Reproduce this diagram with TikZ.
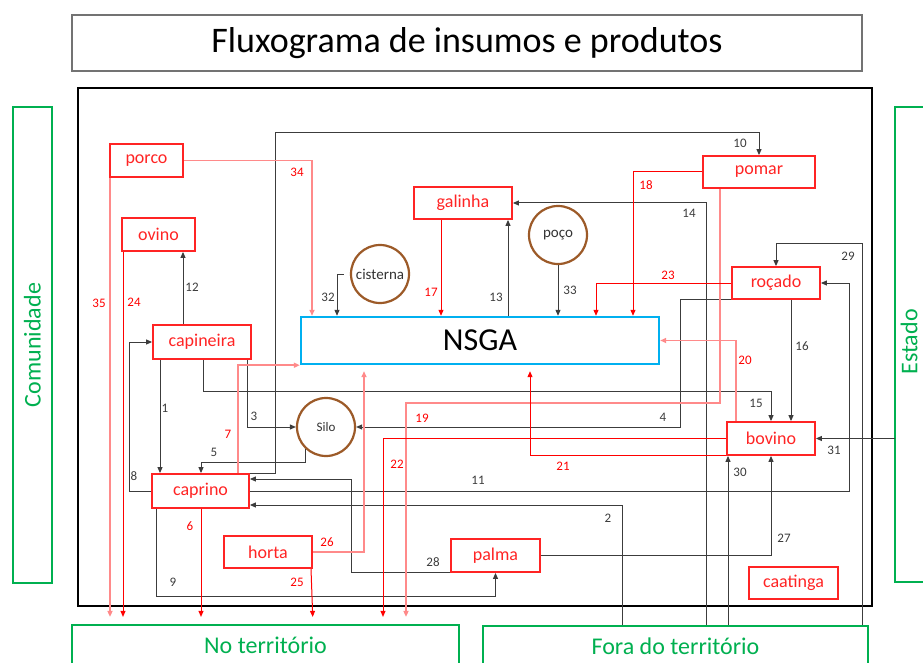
\documentclass[tikz,border=0pt]{standalone}
\usepackage{fontspec}
\setmainfont{Carlito}
\usetikzlibrary{arrows.meta}
\definecolor{boxred}{HTML}{FF2424}
\definecolor{lightred}{HTML}{FF8A8A}
\definecolor{grn}{HTML}{00B050}
\definecolor{nsgablue}{HTML}{00B0F0}
\definecolor{brn}{HTML}{9C5A28}
\definecolor{ln}{HTML}{3C3C3C}
\begin{document}
\begin{tikzpicture}[x=1pt,y=-1pt,
    unit/.style={draw=boxred,line width=1.8pt,text=boxred,fill=white,inner sep=0pt,font=\fontsize{18}{20}\selectfont},
    tank/.style={circle,draw=brn,line width=2.2pt,fill=white,inner sep=0pt,minimum size=58pt,text=black!80,font=\fontsize{15}{16}\selectfont},
    zone/.style={draw=grn,line width=2.2pt,text=grn,inner sep=0pt,font=\fontsize{24}{26}\selectfont},
    num/.style={inner sep=0pt,text=ln,font=\fontsize{13}{14}\selectfont},
    rnum/.style={num,text=red},
    tip/.style={-{Triangle[length=6pt,width=5pt]}},
    blk/.style={draw=ln,line width=1pt,tip},
    rd/.style={draw=red,line width=1pt,tip},
    pk/.style={draw=lightred,line width=1.6pt,tip}]
  \useasboundingbox[fill=white] (0,0) rectangle (923,663);
  \draw[line width=2pt] (78,88) rectangle (872,606);
  \node[draw=black!55,line width=1.2pt,minimum width=790pt,minimum height=56pt,inner sep=0pt,font=\fontsize{36}{40}\selectfont] (title) at (467,43) {Fluxograma de insumos e produtos};
  \node[zone,rotate=90,minimum width=476pt,minimum height=39pt] (comunidade) at (32.5,345) {Comunidade};
  \draw[zone] (895,107) rectangle (935,582);
  \node[rotate=90,inner sep=0pt,text=grn,font=\fontsize{24}{26}\selectfont] (estado) at (909,342) {Estado};
  \node[zone,minimum width=387pt,minimum height=40pt] (noterr) at (265.5,645) {No território};
  \node[zone,minimum width=385pt,minimum height=40pt] (fora) at (675.5,646) {Fora do território};
  \node[draw=nsgablue,line width=2.4pt,minimum width=358pt,minimum height=47pt,inner sep=0pt,font=\fontsize{32}{34}\selectfont] (nsga) at (480,340.5) {NSGA};
  \node[unit,minimum width=73pt,minimum height=33pt] (porco) at (146.5,160.5) {porco};
  \node[unit,minimum width=73pt,minimum height=33pt] (ovino) at (158.5,234.5) {ovino};
  \node[unit,minimum width=98pt,minimum height=34pt] (capineira) at (202,342) {capineira};
  \node[unit,minimum width=97pt,minimum height=34pt] (caprino) at (200.5,491) {caprino};
  \node[unit,minimum width=88pt,minimum height=32pt] (horta) at (268,552) {horta};
  \node[unit,minimum width=98pt,minimum height=32pt] (galinha) at (463,203) {galinha};
  \node[unit,minimum width=112pt,minimum height=32pt] (pomar) at (759,172) {pomar};
  \node[unit,minimum width=88pt,minimum height=32pt] (rocado) at (776,283) {roçado};
  \node[unit,minimum width=88pt,minimum height=33pt] (bovino) at (771,438.5) {bovino};
  \node[unit,minimum width=89pt,minimum height=33pt] (palma) at (495.5,555.5) {palma};
  \node[unit,minimum width=89pt,minimum height=32pt] (caatinga) at (793.5,583) {caatinga};
  \node[tank] (cisterna) at (380,274) {cisterna};
  \node[tank] (poco) at (558,235) {poço};
  \node[tank,font=\fontsize{13}{14}\selectfont] (silo) at (326,427) {Silo};

  \draw[blk] (capineira.south -| 160,0) -- (caprino.north -| 160,0);
  \draw[blk] (622,0 |- fora.north) |- (caprino.east |- 0,505);
  \draw[blk] (247,0 |- capineira.south) |- (silo.west);
  \draw[blk] (rocado.south west) -- (680,0 |- rocado.south west) |- (silo.east);
  \draw[blk] (silo.226) |- (201,462) -- (201,0 |- caprino.north);
  \draw[blk] (caprino.west) -- (129,0 |- caprino.west) |- (capineira.west);
  \draw[blk] (156,0 |- caprino.south) |- (palma.south |- 0,596) -- (palma.south);
  \draw[blk] (caprino.north east) -- (275,0 |- caprino.north east) |- (pomar.north |- 0,133) -- (pomar.north);
  \draw[blk] (caprino.east) -- (849,0 |- caprino.east) |- (rocado.east);
  \draw[blk] (183,0 |- capineira.north) -- (183,0 |- ovino.south);
  \draw[blk] (508,0 |- nsga.north) -- (508,0 |- galinha.south);
  \draw[blk] (706,0 |- fora.north) |- (galinha.east);
  \draw[blk] (203,0 |- capineira.south) |- (bovino.north |- 0,391) -- (bovino.north);
  \draw[blk] (791,0 |- rocado.south) -- (791,0 |- bovino.north);
  \draw[blk] (palma.east) -| (bovino.south);
  \draw[blk] (palma.south west) -- (351,0 |- palma.south west) |- (caprino.east |- 0,479);
  \draw[blk] (862,0 |- fora.north) |- (rocado.north |- 0,243) -- (rocado.north);
  \draw[blk] (728,0 |- fora.north) -- (728,0 |- bovino.south);
  \draw[blk] (895,0 |- bovino.east) -- (bovino.east);
  \draw[blk,shorten <=6pt] (cisterna.west) -| (337,0 |- nsga.north);
  \draw[blk] (poco.south) -- (poco.south |- nsga.north);

  \draw[rd,shorten >=7pt] (201,0 |- caprino.south) -- (201,0 |- noterr.north);
  \draw[pk] (238,0 |- caprino.north) |- (nsga.south west);
  \draw[rd] (441,0 |- galinha.south) -- (441,0 |- nsga.north);
  \draw[rd] (pomar.west) -| (633,0 |- nsga.north);
  \draw[pk,shorten >=7pt] (720,0 |- pomar.south) |- (406,403) -- (406,0 |- noterr.north);
  \draw[pk] (736,0 |- bovino.north) |- (nsga.east);
  \draw[rd,shorten >=6pt] (bovino.south west) -| (530,0 |- nsga.south);
  \draw[rd,shorten >=7pt] (bovino.west) -| (383,0 |- noterr.north);
  \draw[rd] (rocado.west) -| (596,0 |- nsga.north);
  \draw[rd,shorten >=7pt] (123,0 |- ovino.south) -- (123,0 |- noterr.north);
  \draw[rd,shorten >=7pt] (311,0 |- horta.south) -- (313,0 |- noterr.north);
  \draw[pk,shorten >=6pt] (horta.east) -| (364,0 |- nsga.south);
  \draw[pk] (porco.east) -| (312,0 |- nsga.north);
  \draw[pk,shorten >=7pt] (110,0 |- porco.south) -- (110,0 |- noterr.north);

  \node[num] (n1) at (165,408) {1};
  \node[num] (n2) at (608,518) {2};
  \node[num] (n3) at (254,416) {3};
  \node[num] (n4) at (663,417) {4};
  \node[num] (n5) at (214,452) {5};
  \node[rnum] (n6) at (190,526) {6};
  \node[rnum] (n7) at (228,434) {7};
  \node[num] (n8) at (134,476) {8};
  \node[num] (n9) at (173,582) {9};
  \node[num] (n10) at (740,143) {10};
  \node[num] (n11) at (478,480) {11};
  \node[num] (n12) at (192,287) {12};
  \node[num] (n13) at (496,297) {13};
  \node[num] (n14) at (689,213) {14};
  \node[num] (n15) at (756,403) {15};
  \node[num] (n16) at (802,346) {16};
  \node[rnum] (n17) at (431,292) {17};
  \node[rnum] (n18) at (646,185) {18};
  \node[rnum] (n19) at (422,418) {19};
  \node[rnum] (n20) at (745,360) {20};
  \node[rnum] (n21) at (563,466) {21};
  \node[rnum] (n22) at (397,464) {22};
  \node[rnum] (n23) at (668,275) {23};
  \node[rnum] (n24) at (134,302) {24};
  \node[rnum] (n25) at (297,582) {25};
  \node[rnum] (n26) at (327,542) {26};
  \node[num] (n27) at (784,538) {27};
  \node[num] (n28) at (433,562) {28};
  \node[num] (n29) at (848,256) {29};
  \node[num] (n30) at (740,472) {30};
  \node[num] (n31) at (834,450) {31};
  \node[num] (n32) at (328,297) {32};
  \node[num] (n33) at (570,290) {33};
  \node[rnum] (n34) at (297,172) {34};
  \node[rnum] (n35) at (99,303) {35};
\end{tikzpicture}
\end{document}
